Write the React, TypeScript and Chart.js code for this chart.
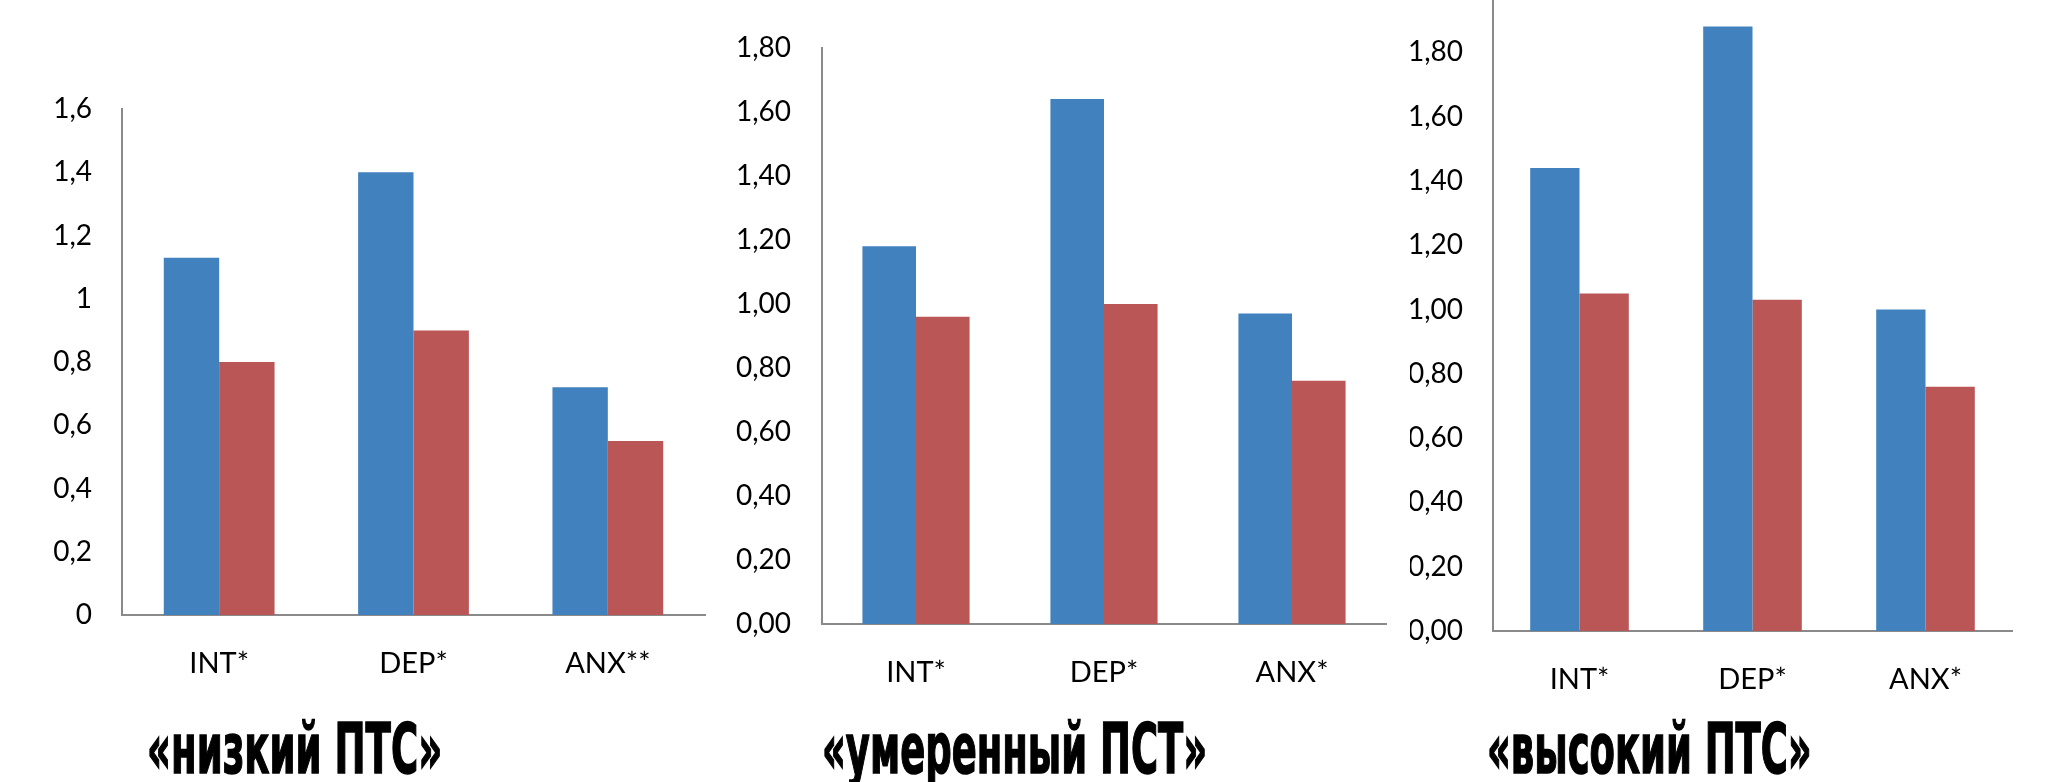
import { useEffect, useLayoutEffect, useRef } from "react";
import { Chart, registerables } from "chart.js";

Chart.register(...registerables);

// data
const labelsLow = ["INT*", "DEP*", "ANX**"];
const labelsOther = ["INT*", "DEP*", "ANX*"];

const lowBlue = [1.13, 1.4, 0.72];
const lowRed = [0.8, 0.9, 0.55];
const moderateBlue = [1.18, 1.64, 0.97];
const moderateRed = [0.96, 1.0, 0.76];
const highBlue = [1.44, 1.88, 1.0];
const highRed = [1.05, 1.03, 0.76];

const titleLow = "«низкий ПТС»";
const titleModerate = "«умеренный ПСТ»";
const titleHigh = "«высокий ПТС»";

const BLUE = "#4182be";
const RED = "#bb5657";
const AXIS = "#8a8a8a";

interface PanelProps {
  labels: string[];
  blue: number[];
  red: number[];
  max: number;
  decimals: number;
  left: number;
  top: number;
  width: number;
  height: number;
  padTop: number;
  padRight: number;
  yWidth: number;
  xHeight: number;
  yTickPad: number;
  hideMaxTick?: boolean;
}

function Panel(p: PanelProps) {
  const chartRef = useRef<HTMLCanvasElement>(null);

  useEffect(() => {
    if (!chartRef.current) return;
    const fmt = (v: number) => {
      if (p.hideMaxTick && v >= p.max - 1e-9) return "";
      if (p.decimals === 0) return String(Math.round(v * 10) / 10).replace(".", ",");
      return v.toFixed(p.decimals).replace(".", ",");
    };

    const chart = new Chart(chartRef.current, {
      type: "bar",
      data: {
        labels: p.labels,
        datasets: [
          { data: p.blue, backgroundColor: BLUE, borderWidth: 0, categoryPercentage: 0.57, barPercentage: 1 },
          { data: p.red, backgroundColor: RED, borderWidth: 0, categoryPercentage: 0.57, barPercentage: 1 },
        ],
      },
      options: {
        animation: false,
        responsive: true,
        maintainAspectRatio: false,
        layout: { padding: { top: p.padTop, right: p.padRight, left: 0, bottom: 0 } },
        plugins: { legend: { display: false }, tooltip: { enabled: false } },
        scales: {
          x: {
            grid: { display: false, drawTicks: false },
            border: { display: true, color: AXIS, width: 2 },
            ticks: {
              color: "#000",
              font: { family: "Lato", size: 29 },
              padding: 31,
              maxRotation: 0,
              autoSkip: false,
            },
            afterFit: (s: any) => {
              s.height = p.xHeight;
            },
          },
          y: {
            min: 0,
            max: p.max,
            grid: { display: false, drawTicks: false },
            border: { display: true, color: AXIS, width: 2 },
            ticks: {
              stepSize: 0.2,
              color: "#000",
              font: { family: "Lato", size: 28 },
              padding: p.yTickPad,
              callback: (v) => fmt(Number(v)),
            },
            afterFit: (s: any) => {
              s.width = p.yWidth;
            },
          },
        },
      },
    });

    return () => {
      chart.destroy();
    };
  }, []);

  return (
    <div style={{ position: "absolute", left: p.left, top: p.top, width: p.width, height: p.height }}>
      <canvas ref={chartRef} />
    </div>
  );
}

function FitTitle({ text, left, width, top }: { text: string; left: number; width: number; top: number }) {
  const ref = useRef<HTMLSpanElement>(null);

  useLayoutEffect(() => {
    if (!ref.current) return;
    const w = ref.current.offsetWidth;
    if (w > 0) ref.current.style.transform = `scaleX(${width / w})`;
  }, []);

  return (
    <span
      ref={ref}
      style={{
        position: "absolute",
        left,
        top,
        whiteSpace: "nowrap",
        transformOrigin: "left top",
        fontFamily: '"Liberation Sans Narrow", "DejaVu Sans Condensed", "Liberation Sans", sans-serif',
        fontWeight: 700,
        fontSize: 70,
        lineHeight: "70px",
        color: "#000",
        WebkitTextStroke: "1.5px #000",
      }}
    >
      {text}
    </span>
  );
}

export default function App() {
  return (
    <div
      style={{
        position: "fixed",
        left: 0,
        top: 0,
        width: 2048,
        height: 782,
        background: "#fff",
        overflow: "hidden",
      }}
    >
      <Panel
        labels={labelsLow}
        blue={lowBlue}
        red={lowRed}
        max={1.6}
        decimals={0}
        left={0}
        top={0}
        width={720}
        height={782}
        padTop={109}
        padRight={15}
        yWidth={122}
        xHeight={167}
        yTickPad={30}
      />
      <Panel
        labels={labelsOther}
        blue={moderateBlue}
        red={moderateRed}
        max={1.8}
        decimals={2}
        left={730}
        top={0}
        width={680}
        height={782}
        padTop={40}
        padRight={24}
        yWidth={92}
        xHeight={158}
        yTickPad={31}
      />
      <Panel
        labels={labelsOther}
        blue={highBlue}
        red={highRed}
        max={2}
        decimals={2}
        hideMaxTick
        left={1410}
        top={-60}
        width={638}
        height={842}
        padTop={48}
        padRight={36}
        yWidth={83}
        xHeight={151}
        yTickPad={30}
      />
      <FitTitle text={titleLow} left={147} width={295} top={714} />
      <FitTitle text={titleModerate} left={822} width={385} top={714} />
      <FitTitle text={titleHigh} left={1487} width={325} top={714} />
    </div>
  );
}
